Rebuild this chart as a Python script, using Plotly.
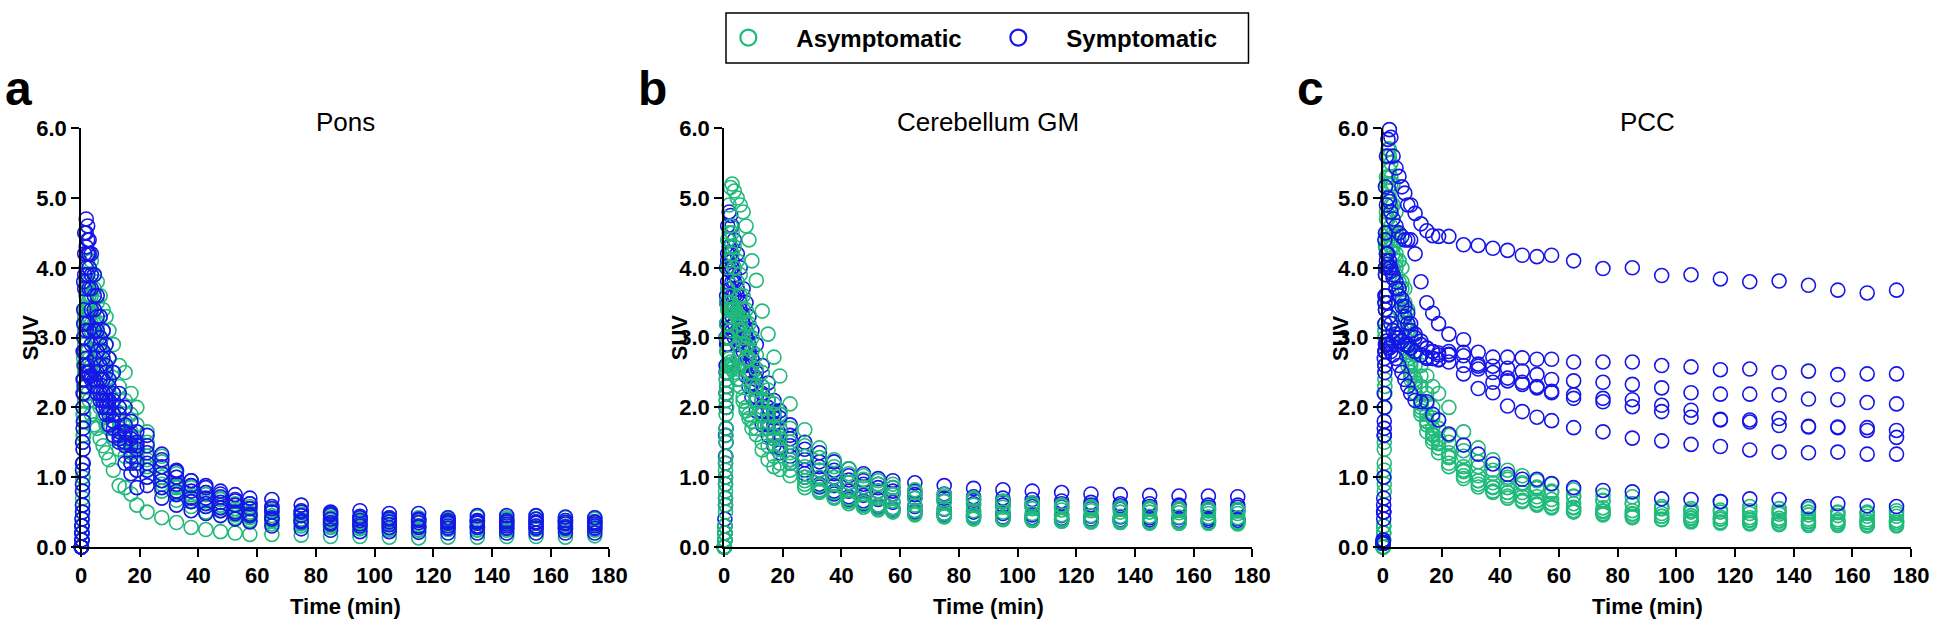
import plotly.graph_objects as go

# frame mid-times (min)
times = [0.1, 0.3, 0.5, 0.7, 0.9, 1.25, 1.75, 2.25, 2.75, 3.5, 4.5,
         5.5, 6.5, 7.5, 8.5, 9.5, 11, 13, 15, 17, 19,
         22.5, 27.5, 32.5, 37.5, 42.5, 47.5, 52.5, 57.5,
         65, 75, 85, 95, 105, 115, 125, 135, 145, 155, 165, 175]

# SUV per subject, panel a (Pons)
pons_asym = [
    [0.0, 0.2, 0.8, 1.6, 2.4, 3.2, 3.8, 4.1, 4.2, 4.1, 3.9, 3.8, 3.6, 3.4, 3.3, 3.1, 2.9, 2.6, 2.5, 2.2, 2.0, 1.65, 1.3, 1.05, 0.88, 0.78, 0.7, 0.62, 0.58, 0.52, 0.47, 0.45, 0.42, 0.42, 0.42, 0.42, 0.43, 0.42, 0.44, 0.42, 0.42],
    [0.0, 0.1, 0.6, 1.4, 2.2, 3.0, 3.6, 3.9, 4.0, 3.9, 3.7, 3.5, 3.3, 3.1, 2.9, 2.7, 2.5, 2.3, 2.1, 1.9, 1.75, 1.5, 1.22, 1.0, 0.85, 0.75, 0.68, 0.6, 0.55, 0.5, 0.45, 0.42, 0.4, 0.38, 0.38, 0.4, 0.38, 0.4, 0.4, 0.38, 0.4],
    [0.0, 0.3, 1.0, 1.9, 2.7, 3.3, 3.6, 3.7, 3.6, 3.4, 3.2, 3.0, 2.8, 2.6, 2.4, 2.2, 2.0, 1.8, 1.65, 1.5, 1.4, 1.25, 1.0, 0.85, 0.72, 0.63, 0.57, 0.52, 0.48, 0.42, 0.38, 0.35, 0.33, 0.32, 0.3, 0.32, 0.3, 0.32, 0.3, 0.3, 0.31],
    [0.0, 0.2, 0.7, 1.5, 2.3, 2.9, 3.3, 3.4, 3.3, 3.1, 2.9, 2.7, 2.5, 2.3, 2.1, 1.95, 1.8, 1.6, 1.5, 1.35, 1.25, 1.1, 0.9, 0.76, 0.65, 0.58, 0.52, 0.47, 0.44, 0.38, 0.34, 0.32, 0.3, 0.28, 0.28, 0.27, 0.28, 0.27, 0.28, 0.27, 0.27],
    [0.0, 0.1, 0.5, 1.2, 1.9, 2.5, 2.8, 2.8, 2.7, 2.6, 2.4, 2.2, 2.0, 1.85, 1.75, 1.7, 1.55, 1.4, 1.3, 1.2, 1.1, 1.0, 0.8, 0.67, 0.58, 0.5, 0.45, 0.42, 0.38, 0.33, 0.3, 0.28, 0.26, 0.25, 0.24, 0.25, 0.24, 0.24, 0.25, 0.24, 0.24],
    [0.0, 0.1, 0.4, 1.0, 1.6, 2.1, 2.3, 2.2, 2.1, 1.9, 1.75, 1.7, 1.55, 1.45, 1.35, 1.25, 1.1, 0.88, 0.85, 0.76, 0.6, 0.5, 0.42, 0.35, 0.28, 0.25, 0.22, 0.2, 0.18, 0.18, 0.17, 0.15, 0.15, 0.14, 0.13, 0.14, 0.14, 0.15, 0.15, 0.14, 0.16],
    [0.0, 0.2, 0.9, 1.8, 2.6, 3.1, 3.4, 3.5, 3.4, 3.2, 3.0, 2.8, 2.6, 2.4, 2.25, 2.1, 1.9, 1.7, 1.55, 1.4, 1.3, 1.15, 0.95, 0.78, 0.66, 0.58, 0.52, 0.46, 0.42, 0.37, 0.33, 0.3, 0.28, 0.27, 0.25, 0.26, 0.25, 0.26, 0.26, 0.26, 0.25],
    [0.0, 0.3, 1.1, 2.0, 2.8, 3.4, 3.8, 3.9, 3.8, 3.6, 3.4, 3.2, 3.0, 2.8, 2.6, 2.4, 2.2, 2.0, 1.8, 1.65, 1.5, 1.3, 1.05, 0.88, 0.75, 0.66, 0.6, 0.55, 0.5, 0.45, 0.4, 0.38, 0.36, 0.35, 0.34, 0.35, 0.36, 0.35, 0.36, 0.35, 0.36],
]
pons_sym = [
    [0.0, 0.4, 1.5, 2.8, 3.8, 4.5, 4.7, 4.6, 4.4, 4.2, 3.9, 3.6, 3.3, 3.1, 2.9, 2.7, 2.5, 2.2, 2.0, 1.8, 1.65, 1.45, 1.25, 1.08, 0.95, 0.88, 0.8, 0.75, 0.7, 0.68, 0.6, 0.5, 0.52, 0.48, 0.48, 0.42, 0.45, 0.45, 0.45, 0.43, 0.42],
    [0.0, 0.3, 1.2, 2.4, 3.4, 4.2, 4.5, 4.4, 4.2, 3.9, 3.6, 3.3, 3.0, 2.8, 2.6, 2.4, 2.2, 2.0, 1.75, 1.6, 1.45, 1.35, 1.15, 1.0, 0.88, 0.78, 0.72, 0.66, 0.62, 0.55, 0.5, 0.46, 0.44, 0.42, 0.4, 0.38, 0.38, 0.38, 0.4, 0.38, 0.36],
    [0.0, 0.2, 0.9, 2.0, 3.0, 3.7, 4.0, 3.9, 3.7, 3.4, 3.1, 2.8, 2.6, 2.4, 2.2, 2.1, 1.9, 1.65, 1.5, 1.45, 1.4, 1.2, 1.05, 0.9, 0.8, 0.7, 0.64, 0.6, 0.55, 0.5, 0.45, 0.4, 0.38, 0.36, 0.35, 0.34, 0.34, 0.33, 0.34, 0.33, 0.33],
    [0.0, 0.1, 0.6, 1.4, 2.2, 2.8, 3.1, 3.2, 3.1, 2.9, 2.7, 2.5, 2.4, 2.2, 2.1, 2.0, 1.8, 1.6, 1.45, 1.2, 1.1, 1.0, 0.85, 0.75, 0.65, 0.58, 0.52, 0.48, 0.45, 0.4, 0.36, 0.33, 0.3, 0.28, 0.28, 0.27, 0.28, 0.27, 0.27, 0.27, 0.27],
    [0.0, 0.2, 0.8, 1.7, 2.4, 2.6, 2.7, 2.6, 2.5, 2.45, 2.4, 2.3, 2.2, 2.1, 2.0, 1.9, 1.7, 1.55, 1.45, 1.3, 1.2, 1.1, 0.95, 0.8, 0.7, 0.62, 0.56, 0.5, 0.47, 0.42, 0.38, 0.35, 0.33, 0.32, 0.3, 0.3, 0.3, 0.3, 0.3, 0.29, 0.3],
    [0.0, 0.1, 0.5, 1.2, 1.8, 2.3, 2.5, 2.5, 2.45, 2.4, 2.3, 2.2, 2.1, 2.0, 1.9, 1.75, 1.6, 1.5, 1.2, 1.05, 0.85, 0.88, 0.7, 0.6, 0.52, 0.48, 0.45, 0.4, 0.36, 0.3, 0.26, 0.24, 0.22, 0.22, 0.21, 0.2, 0.2, 0.2, 0.2, 0.2, 0.2],
    [0.0, 0.3, 1.1, 2.2, 3.2, 3.9, 4.3, 4.2, 4.0, 3.7, 3.4, 3.1, 2.9, 2.7, 2.5, 2.3, 2.1, 1.9, 1.65, 1.55, 1.5, 1.6, 1.33, 1.1, 0.95, 0.85, 0.76, 0.68, 0.62, 0.58, 0.52, 0.48, 0.42, 0.4, 0.38, 0.36, 0.36, 0.36, 0.36, 0.35, 0.35],
]

# panel b (Cerebellum GM)
cereb_asym = [
    [0.0, 0.3, 1.2, 2.4, 3.5, 4.4, 4.9, 5.15, 5.2, 5.1, 5.0, 4.9, 4.8, 4.6, 4.4, 4.1, 3.82, 3.38, 3.05, 2.72, 2.45, 2.05, 1.68, 1.42, 1.25, 1.12, 1.02, 0.95, 0.9, 0.82, 0.75, 0.7, 0.66, 0.63, 0.6, 0.58, 0.57, 0.56, 0.55, 0.55, 0.54],
    [0.0, 0.3, 1.1, 2.2, 3.2, 4.0, 4.5, 4.6, 4.5, 4.3, 4.1, 3.9, 3.6, 3.4, 3.2, 3.0, 2.75, 2.5, 2.25, 2.05, 1.9, 1.7, 1.45, 1.28, 1.15, 1.05, 0.97, 0.9, 0.85, 0.78, 0.72, 0.68, 0.64, 0.6, 0.58, 0.56, 0.55, 0.54, 0.53, 0.52, 0.52],
    [0.0, 0.2, 0.9, 1.9, 2.8, 3.4, 3.6, 3.5, 3.4, 3.35, 3.3, 3.2, 3.0, 2.85, 2.7, 2.5, 2.3, 2.1, 1.9, 1.7, 1.55, 1.35, 1.15, 1.0, 0.9, 0.82, 0.76, 0.7, 0.66, 0.6, 0.55, 0.52, 0.5, 0.48, 0.46, 0.45, 0.44, 0.44, 0.43, 0.43, 0.42],
    [0.0, 0.1, 0.6, 1.5, 2.3, 2.8, 3.0, 3.1, 3.4, 3.4, 3.35, 3.3, 3.1, 2.9, 2.7, 2.5, 2.25, 2.0, 1.8, 1.6, 1.45, 1.25, 1.0, 0.88, 0.78, 0.7, 0.64, 0.6, 0.56, 0.52, 0.48, 0.45, 0.42, 0.41, 0.4, 0.39, 0.38, 0.37, 0.37, 0.36, 0.36],
    [0.0, 0.2, 0.8, 1.6, 2.2, 2.6, 2.7, 2.65, 2.6, 2.6, 2.55, 2.4, 2.09, 1.95, 1.84, 1.7, 1.61, 1.39, 1.25, 1.15, 1.11, 1.02, 0.85, 0.8, 0.72, 0.65, 0.6, 0.55, 0.52, 0.48, 0.44, 0.42, 0.4, 0.38, 0.37, 0.36, 0.35, 0.34, 0.34, 0.34, 0.33],
    [0.0, 0.1, 0.7, 1.7, 2.5, 3.0, 3.3, 3.4, 3.45, 3.4, 3.3, 3.1, 2.9, 2.7, 2.5, 2.3, 2.1, 1.9, 1.7, 1.55, 1.4, 1.2, 0.95, 0.82, 0.72, 0.66, 0.6, 0.56, 0.52, 0.48, 0.45, 0.42, 0.4, 0.39, 0.38, 0.37, 0.37, 0.36, 0.36, 0.35, 0.35],
    [0.0, 0.2, 1.0, 2.1, 3.0, 3.7, 4.1, 4.3, 4.2, 4.0, 3.8, 3.6, 3.4, 3.2, 3.0, 2.8, 2.55, 2.3, 2.1, 1.9, 1.7, 1.5, 1.3, 1.1, 1.0, 0.92, 0.86, 0.8, 0.75, 0.7, 0.65, 0.6, 0.57, 0.55, 0.53, 0.52, 0.5, 0.5, 0.49, 0.48, 0.48],
    [0.0, 0.1, 0.5, 1.3, 2.0, 2.5, 2.6, 2.6, 2.55, 2.5, 2.4, 2.3, 2.15, 2.0, 1.9, 1.8, 1.7, 1.5, 1.45, 1.3, 1.2, 1.1, 0.9, 0.78, 0.7, 0.62, 0.57, 0.53, 0.5, 0.46, 0.43, 0.4, 0.39, 0.38, 0.37, 0.36, 0.35, 0.35, 0.34, 0.34, 0.34],
]
cereb_sym = [
    [0.0, 0.4, 1.6, 3.0, 4.0, 4.6, 4.8, 4.75, 4.6, 4.4, 4.2, 4.0, 3.7, 3.5, 3.3, 3.1, 2.9, 2.6, 2.35, 2.1, 1.95, 1.75, 1.5, 1.35, 1.22, 1.12, 1.05, 0.98, 0.95, 0.92, 0.88, 0.84, 0.82, 0.8, 0.78, 0.76, 0.75, 0.74, 0.73, 0.73, 0.72],
    [0.0, 0.3, 1.3, 2.6, 3.6, 4.2, 4.4, 4.3, 4.1, 3.9, 3.7, 3.5, 3.3, 3.1, 2.9, 2.7, 2.5, 2.3, 2.1, 1.95, 1.85, 1.6, 1.4, 1.22, 1.1, 1.02, 0.95, 0.9, 0.85, 0.8, 0.76, 0.72, 0.7, 0.68, 0.66, 0.64, 0.62, 0.62, 0.6, 0.6, 0.6],
    [0.0, 0.2, 1.0, 2.2, 3.2, 3.8, 4.0, 3.95, 3.8, 3.6, 3.4, 3.2, 3.0, 2.85, 2.7, 2.5, 2.3, 2.1, 1.9, 1.75, 1.6, 1.45, 1.25, 1.1, 1.0, 0.92, 0.86, 0.8, 0.76, 0.7, 0.66, 0.62, 0.6, 0.58, 0.57, 0.55, 0.54, 0.54, 0.53, 0.52, 0.52],
    [0.0, 0.2, 0.9, 2.0, 2.9, 3.5, 3.7, 3.7, 3.6, 3.45, 3.3, 3.1, 2.9, 2.7, 2.5, 2.35, 2.15, 1.95, 1.75, 1.6, 1.45, 1.3, 1.1, 0.98, 0.88, 0.8, 0.74, 0.68, 0.64, 0.58, 0.54, 0.5, 0.48, 0.46, 0.45, 0.44, 0.43, 0.42, 0.42, 0.41, 0.41],
    [0.0, 0.1, 0.7, 1.7, 2.6, 3.2, 3.4, 3.4, 3.3, 3.2, 3.1, 2.95, 2.8, 2.6, 2.45, 2.3, 2.1, 1.9, 1.7, 1.55, 1.42, 1.25, 1.05, 0.9, 0.8, 0.72, 0.66, 0.6, 0.56, 0.52, 0.48, 0.45, 0.43, 0.42, 0.41, 0.4, 0.39, 0.39, 0.38, 0.38, 0.38],
    [0.0, 0.3, 1.2, 2.5, 3.5, 4.1, 4.3, 4.2, 4.0, 3.8, 3.6, 3.4, 3.2, 3.0, 2.8, 2.6, 2.4, 2.2, 2.0, 1.85, 1.7, 1.55, 1.3, 1.15, 1.05, 0.96, 0.9, 0.85, 0.8, 0.75, 0.7, 0.67, 0.65, 0.63, 0.62, 0.6, 0.59, 0.58, 0.58, 0.57, 0.57],
    [0.0, 0.1, 0.6, 1.5, 2.3, 2.9, 3.1, 3.15, 3.1, 3.0, 2.9, 2.75, 2.6, 2.45, 2.3, 2.15, 1.95, 1.75, 1.6, 1.45, 1.35, 1.2, 1.0, 0.86, 0.76, 0.68, 0.62, 0.57, 0.53, 0.5, 0.46, 0.44, 0.42, 0.41, 0.4, 0.39, 0.38, 0.38, 0.37, 0.37, 0.37],
]

# panel c (PCC)
pcc_asym = [
    [0.0, 0.3, 1.5, 3.0, 4.3, 5.2, 5.6, 5.7, 5.5, 5.2, 4.8, 4.4, 4.0, 3.7, 3.4, 3.1, 2.8, 2.6, 2.45, 2.3, 2.2, 2.0, 1.65, 1.42, 1.25, 1.1, 1.02, 0.95, 0.9, 0.82, 0.74, 0.72, 0.55, 0.5, 0.65, 0.58, 0.55, 0.55, 0.5, 0.5, 0.52],
    [0.0, 0.2, 1.2, 2.6, 3.9, 4.8, 5.3, 5.4, 5.2, 4.9, 4.5, 4.1, 3.7, 3.4, 3.1, 2.85, 2.6, 2.3, 2.05, 1.85, 1.7, 1.5, 1.3, 1.15, 1.05, 0.97, 0.9, 0.84, 0.78, 0.72, 0.66, 0.62, 0.55, 0.52, 0.5, 0.48, 0.47, 0.46, 0.45, 0.44, 0.44],
    [0.0, 0.3, 1.4, 2.8, 4.0, 4.7, 5.0, 5.0, 4.8, 4.5, 4.2, 3.8, 3.5, 3.2, 2.9, 2.65, 2.4, 2.1, 1.9, 1.7, 1.55, 1.35, 1.15, 1.02, 0.92, 0.85, 0.78, 0.72, 0.68, 0.62, 0.56, 0.52, 0.48, 0.45, 0.43, 0.42, 0.41, 0.4, 0.39, 0.39, 0.38],
    [0.0, 0.1, 0.9, 2.2, 3.4, 4.3, 4.7, 4.8, 4.6, 4.3, 4.0, 3.6, 3.3, 3.0, 2.75, 2.5, 2.3, 2.0, 1.8, 1.6, 1.5, 1.3, 1.1, 0.95, 0.85, 0.78, 0.72, 0.67, 0.62, 0.56, 0.51, 0.47, 0.44, 0.41, 0.4, 0.38, 0.37, 0.36, 0.36, 0.35, 0.35],
    [0.0, 0.2, 1.1, 2.4, 3.6, 4.5, 5.0, 5.1, 4.9, 4.5, 4.1, 3.7, 3.3, 3.0, 2.7, 2.45, 2.2, 1.95, 1.75, 1.55, 1.42, 1.2, 1.02, 0.9, 0.8, 0.73, 0.67, 0.62, 0.58, 0.52, 0.48, 0.44, 0.4, 0.38, 0.36, 0.35, 0.34, 0.33, 0.33, 0.32, 0.32],
    [0.0, 0.2, 1.0, 2.3, 3.5, 4.2, 4.5, 4.5, 4.3, 4.0, 3.7, 3.4, 3.1, 2.85, 2.6, 2.4, 2.2, 1.9, 1.65, 1.5, 1.35, 1.15, 0.98, 0.86, 0.78, 0.7, 0.65, 0.6, 0.56, 0.5, 0.46, 0.42, 0.39, 0.36, 0.34, 0.33, 0.32, 0.31, 0.31, 0.3, 0.3],
    [0.0, 0.3, 1.6, 3.1, 4.4, 5.3, 5.7, 5.6, 5.3, 4.9, 4.5, 4.1, 3.8, 3.5, 3.2, 3.0, 2.75, 2.45, 2.2, 2.0, 1.82, 1.6, 1.38, 1.22, 1.1, 1.0, 0.92, 0.86, 0.8, 0.73, 0.67, 0.62, 0.58, 0.55, 0.53, 0.52, 0.5, 0.5, 0.49, 0.48, 0.48],
    [0.0, 0.1, 0.8, 2.0, 3.2, 4.0, 4.4, 4.5, 4.4, 4.2, 3.9, 3.6, 3.3, 3.0, 2.8, 2.6, 2.35, 2.05, 1.8, 1.62, 1.48, 1.28, 1.08, 0.95, 0.86, 0.78, 0.72, 0.66, 0.62, 0.57, 0.52, 0.48, 0.44, 0.42, 0.4, 0.39, 0.38, 0.37, 0.36, 0.36, 0.35],
]
pcc_sym = [
    [0.07, 1.0, 2.7, 4.4, 5.16, 5.6, 5.84, 5.98, 5.87, 5.6, 5.43, 5.31, 5.16, 5.07, 4.9, 4.9, 4.78, 4.63, 4.53, 4.46, 4.45, 4.45, 4.33, 4.32, 4.28, 4.25, 4.18, 4.16, 4.18, 4.10, 3.99, 4.00, 3.89, 3.90, 3.84, 3.80, 3.81, 3.75, 3.68, 3.64, 3.68],
    [0.05, 0.6, 2.0, 3.6, 4.5, 4.9, 5.0, 4.95, 4.8, 4.7, 4.6, 4.5, 4.45, 4.4, 4.4, 4.4, 4.2, 3.8, 3.5, 3.35, 3.2, 3.05, 2.97, 2.79, 2.72, 2.72, 2.71, 2.69, 2.69, 2.65, 2.65, 2.65, 2.60, 2.58, 2.54, 2.55, 2.50, 2.52, 2.47, 2.48, 2.48],
    [0.05, 0.5, 1.8, 3.2, 3.9, 4.2, 4.2, 4.1, 4.0, 3.9, 3.8, 3.7, 3.55, 3.45, 3.35, 3.2, 3.05, 2.95, 2.85, 2.8, 2.75, 2.8, 2.79, 2.62, 2.59, 2.56, 2.52, 2.47, 2.40, 2.38, 2.36, 2.33, 2.28, 2.21, 2.19, 2.19, 2.18, 2.12, 2.11, 2.07, 2.05],
    [0.1, 0.7, 2.2, 3.5, 4.0, 4.1, 4.05, 4.0, 3.95, 3.85, 3.7, 3.6, 3.45, 3.3, 3.2, 3.1, 3.0, 2.9, 2.85, 2.8, 2.78, 2.76, 2.74, 2.59, 2.50, 2.42, 2.36, 2.30, 2.23, 2.18, 2.13, 2.11, 2.03, 1.96, 1.83, 1.82, 1.84, 1.73, 1.72, 1.71, 1.67],
    [0.05, 0.4, 1.6, 2.8, 3.4, 3.6, 3.5, 3.3, 3.2, 3.1, 3.05, 3.0, 2.95, 2.9, 2.88, 2.85, 2.8, 2.75, 2.72, 2.7, 2.68, 2.65, 2.6, 2.55, 2.36, 2.38, 2.33, 2.28, 2.21, 2.13, 2.08, 2.01, 1.94, 1.86, 1.82, 1.79, 1.74, 1.72, 1.71, 1.67, 1.57],
    [0.1, 0.5, 1.7, 2.6, 2.9, 2.95, 2.9, 2.85, 2.9, 2.95, 3.0, 3.0, 2.95, 2.9, 2.9, 2.85, 2.8, 2.75, 2.7, 2.7, 2.69, 2.75, 2.48, 2.27, 2.21, 2.02, 1.94, 1.86, 1.81, 1.71, 1.65, 1.56, 1.52, 1.47, 1.44, 1.39, 1.36, 1.35, 1.36, 1.33, 1.33],
    [0.05, 0.5, 1.6, 2.5, 2.8, 2.9, 2.9, 2.85, 2.8, 2.75, 2.7, 2.6, 2.5, 2.4, 2.3, 2.2, 2.1, 2.08, 2.08, 1.9, 1.82, 1.62, 1.46, 1.33, 1.19, 1.04, 0.97, 0.97, 0.91, 0.85, 0.81, 0.79, 0.69, 0.68, 0.65, 0.69, 0.68, 0.58, 0.62, 0.59, 0.58],
]

panel_titles = ["Pons", "Cerebellum GM", "PCC"]
panel_letters = ["a", "b", "c"]

GREEN = "rgb(32,186,122)"
BLUE = "rgb(22,22,232)"
FONT = "Liberation Sans, Arial, sans-serif"
W, H = 1946, 633

# pixel layout of the three plot areas
x_px = [(76, 611), (727, 1262), (1394, 1929)]
letter_off = [63, 72, 73]
suv_off = [51, 45, 43]
y_top, y_bot = 121, 557


def px(x):
    return x / W


def py(y):
    return 1 - y / H


fig = go.Figure()

panels = [(pons_asym, pons_sym), (cereb_asym, cereb_sym), (pcc_asym, pcc_sym)]
for i, (asym, sym) in enumerate(panels):
    ax = "" if i == 0 else str(i + 1)
    order = [(asym, GREEN), (sym, BLUE)]
    if i == 1:
        order = [(sym, BLUE), (asym, GREEN)]
    for group, col in order:
        xs, ys = [], []
        for subj in group:
            assert len(subj) == len(times)
            xs += times
            ys += subj
        fig.add_trace(go.Scatter(
            x=xs, y=ys, mode="markers", showlegend=False, cliponaxis=False,
            marker=dict(symbol="circle-open", size=14, color=col, line=dict(width=1.6, color=col)),
            xaxis="x" + ax, yaxis="y" + ax))

# legend-only entries
for name, col in [("Asymptomatic", GREEN), ("Symptomatic", BLUE)]:
    fig.add_trace(go.Scatter(
        x=[None], y=[None], mode="markers", name=name,
        marker=dict(symbol="circle-open", size=20, color=col, line=dict(width=2.2, color=col))))

axis_common = dict(
    showline=True, linecolor="black", linewidth=1.6, ticks="outside", ticklen=8,
    tickwidth=1.6, tickcolor="black", showgrid=False, zeroline=False,
    tickfont=dict(family=FONT, size=22, color="black", weight="bold"))

layout = dict(
    width=W, height=H, margin=dict(l=0, r=0, t=0, b=0),
    paper_bgcolor="white", plot_bgcolor="white",
    legend=dict(orientation="h", x=px(703), y=py(27), xanchor="left", yanchor="middle",
                font=dict(family=FONT, size=24, color="black", weight="bold"),
                itemwidth=86, entrywidth=169, bgcolor="rgba(0,0,0,0)"),
)
annotations = []
shapes = [dict(type="rect", xref="paper", yref="paper", x0=px(729), x1=px(1258),
               y0=py(53), y1=py(1), line=dict(color="black", width=1.5))]


def label(text, x, y, size, bold=True, angle=0):
    font = dict(family=FONT, size=size, color="black")
    if bold:
        font["weight"] = "bold"
    return dict(text=text, x=px(x), y=py(y), xref="paper", yref="paper", showarrow=False,
                xanchor="center", yanchor="middle", textangle=angle, font=font)


for i in range(3):
    ax = "" if i == 0 else str(i + 1)
    x0, x1 = x_px[i]
    layout["xaxis" + ax] = dict(axis_common, domain=[px(x0), px(x1)], range=[0, 180],
                                 tick0=0, dtick=20, anchor="y" + ax)
    layout["yaxis" + ax] = dict(axis_common, domain=[py(y_bot), py(y_top)], range=[0, 6],
                                 dtick=1, tickformat=".1f", anchor="x" + ax)
    cx = (x0 + x1) / 2
    annotations.append(label(panel_titles[i], cx, 115, 26, bold=False))
    annotations.append(label("Time (min)", cx, 619, 22))
    annotations.append(label("SUV", x0 - suv_off[i], (y_top + y_bot) / 2, 22, angle=-90))
    annotations.append(label(panel_letters[i], x0 - letter_off[i], 80, 48))

layout["annotations"] = annotations
layout["shapes"] = shapes
fig.update_layout(**layout)

fig.write_html("out.html", config={"displayModeBar": False},
               post_script="document.body.style.margin='0';document.body.style.overflow='hidden';")
